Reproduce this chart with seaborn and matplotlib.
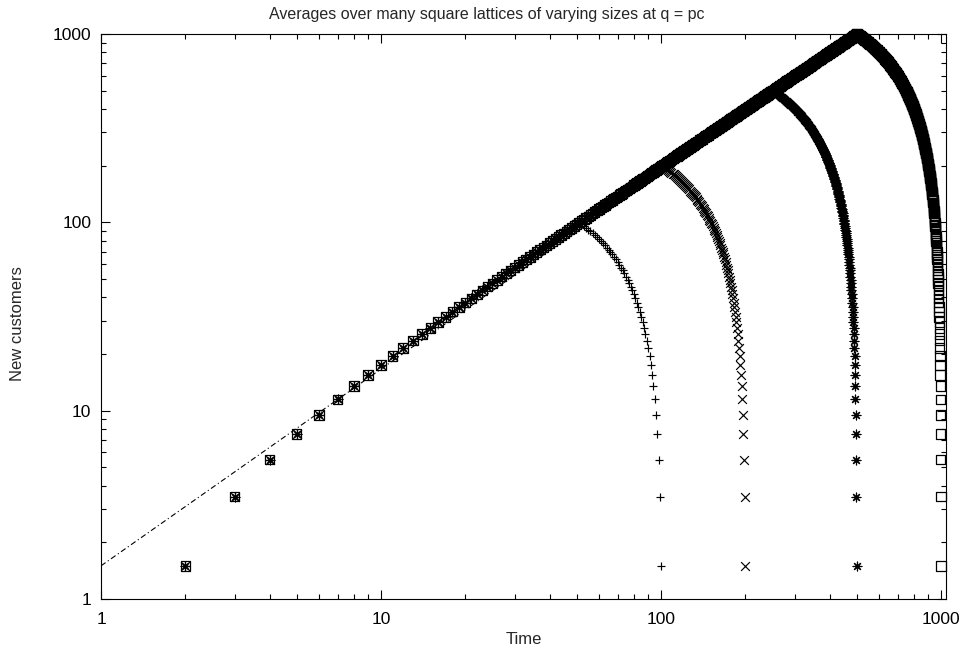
import matplotlib
matplotlib.use("Agg")
import matplotlib.pyplot as plt
import seaborn as sns
import pandas as pd
from matplotlib.ticker import LogLocator, NullFormatter

sns.set_style("ticks")
plt.rcParams['font.family'] = ['Liberation Sans', 'DejaVu Sans']

title = "Averages over many square lattices of varying sizes at q = pc"
x_label = "Time"
y_label = "New customers"

# lattice sizes (one series each) and their gnuplot-like point types
lattice_sizes = [100, 200, 500, 1000]
series_markers = ['+', 'x', (8, 2, 0), 's']

# time steps along the growing branch and the new-customer levels read there
steps = [2, 3, 4, 5, 6, 7, 8, 9, 10, 11,
         12, 13, 14, 15, 16, 17, 18, 19, 20, 21,
         22, 23, 24, 25, 26, 27, 28, 29, 30, 31,
         32, 33, 34, 35, 36, 37, 38, 39, 40, 41,
         42, 43, 44, 45, 46, 47, 48, 49, 50, 51,
         52, 53, 54, 55, 56, 57, 58, 59, 60, 61,
         62, 63, 64, 65, 66, 67, 68, 69, 70, 71,
         72, 73, 74, 75, 76, 77, 78, 79, 80, 81,
         82, 83, 84, 85, 86, 87, 88, 89, 90, 91,
         92, 93, 94, 95, 96, 97, 98, 99, 100, 101,
         102, 103, 104, 105, 106, 107, 108, 109, 110, 111,
         112, 113, 114, 115, 116, 117, 118, 119, 120, 121,
         122, 123, 124, 125, 126, 127, 128, 129, 130, 131,
         132, 133, 134, 135, 136, 137, 138, 139, 140, 141,
         142, 143, 144, 145, 146, 147, 148, 149, 150, 151,
         152, 153, 154, 155, 156, 157, 158, 159, 160, 161,
         162, 163, 164, 165, 166, 167, 168, 169, 170, 171,
         172, 173, 174, 175, 176, 177, 178, 179, 180, 181,
         182, 183, 184, 185, 186, 187, 188, 189, 190, 191,
         192, 193, 194, 195, 196, 197, 198, 199, 200, 201,
         202, 203, 204, 205, 206, 207, 208, 209, 210, 211,
         212, 213, 214, 215, 216, 217, 218, 219, 220, 221,
         222, 223, 224, 225, 226, 227, 228, 229, 230, 231,
         232, 233, 234, 235, 236, 237, 238, 239, 240, 241,
         242, 243, 244, 245, 246, 247, 248, 249, 250,
         252, 254, 256, 258, 260, 262, 264, 266, 268, 270,
         272, 274, 276, 278, 280, 282, 284, 286, 288, 290,
         292, 294, 296, 298, 300, 302, 304, 306, 308, 310,
         312, 314, 316, 318, 320, 322, 324, 326, 328, 330,
         332, 334, 336, 338, 340, 342, 344, 346, 348, 350,
         352, 354, 356, 358, 360, 362, 364, 366, 368, 370,
         372, 374, 376, 378, 380, 382, 384, 386, 388, 390,
         392, 394, 396, 398, 400, 402, 404, 406, 408, 410,
         412, 414, 416, 418, 420, 422, 424, 426, 428, 430,
         432, 434, 436, 438, 440, 442, 444, 446, 448, 450,
         452, 454, 456, 458, 460, 462, 464, 466, 468, 470,
         472, 474, 476, 478, 480, 482, 484, 486, 488, 490,
         492, 494, 496, 498, 500]
levels = [1.5, 3.5, 5.5, 7.5, 9.5, 11.5, 13.5, 15.5, 17.5, 19.5,
          21.5, 23.5, 25.5, 27.5, 29.5, 31.5, 33.5, 35.5, 37.5, 39.5,
          41.5, 43.5, 45.5, 47.5, 49.5, 51.5, 53.5, 55.5, 57.5, 59.5,
          61.5, 63.5, 65.5, 67.5, 69.5, 71.5, 73.5, 75.5, 77.5, 79.5,
          81.5, 83.5, 85.5, 87.5, 89.5, 91.5, 93.5, 95.5, 97.5, 99.5,
          101.5, 103.5, 105.5, 107.5, 109.5, 111.5, 113.5, 115.5, 117.5, 119.5,
          121.5, 123.5, 125.5, 127.5, 129.5, 131.5, 133.5, 135.5, 137.5, 139.5,
          141.5, 143.5, 145.5, 147.5, 149.5, 151.5, 153.5, 155.5, 157.5, 159.5,
          161.5, 163.5, 165.5, 167.5, 169.5, 171.5, 173.5, 175.5, 177.5, 179.5,
          181.5, 183.5, 185.5, 187.5, 189.5, 191.5, 193.5, 195.5, 197.5, 199.5,
          201.5, 203.5, 205.5, 207.5, 209.5, 211.5, 213.5, 215.5, 217.5, 219.5,
          221.5, 223.5, 225.5, 227.5, 229.5, 231.5, 233.5, 235.5, 237.5, 239.5,
          241.5, 243.5, 245.5, 247.5, 249.5, 251.5, 253.5, 255.5, 257.5, 259.5,
          261.5, 263.5, 265.5, 267.5, 269.5, 271.5, 273.5, 275.5, 277.5, 279.5,
          281.5, 283.5, 285.5, 287.5, 289.5, 291.5, 293.5, 295.5, 297.5, 299.5,
          301.5, 303.5, 305.5, 307.5, 309.5, 311.5, 313.5, 315.5, 317.5, 319.5,
          321.5, 323.5, 325.5, 327.5, 329.5, 331.5, 333.5, 335.5, 337.5, 339.5,
          341.5, 343.5, 345.5, 347.5, 349.5, 351.5, 353.5, 355.5, 357.5, 359.5,
          361.5, 363.5, 365.5, 367.5, 369.5, 371.5, 373.5, 375.5, 377.5, 379.5,
          381.5, 383.5, 385.5, 387.5, 389.5, 391.5, 393.5, 395.5, 397.5, 399.5,
          401.5, 403.5, 405.5, 407.5, 409.5, 411.5, 413.5, 415.5, 417.5, 419.5,
          421.5, 423.5, 425.5, 427.5, 429.5, 431.5, 433.5, 435.5, 437.5, 439.5,
          441.5, 443.5, 445.5, 447.5, 449.5, 451.5, 453.5, 455.5, 457.5, 459.5,
          461.5, 463.5, 465.5, 467.5, 469.5, 471.5, 473.5, 475.5, 477.5, 479.5,
          481.5, 483.5, 485.5, 487.5, 489.5, 491.5, 493.5, 495.5, 497.5,
          501.5, 505.5, 509.5, 513.5, 517.5, 521.5, 525.5, 529.5, 533.5, 537.5,
          541.5, 545.5, 549.5, 553.5, 557.5, 561.5, 565.5, 569.5, 573.5, 577.5,
          581.5, 585.5, 589.5, 593.5, 597.5, 601.5, 605.5, 609.5, 613.5, 617.5,
          621.5, 625.5, 629.5, 633.5, 637.5, 641.5, 645.5, 649.5, 653.5, 657.5,
          661.5, 665.5, 669.5, 673.5, 677.5, 681.5, 685.5, 689.5, 693.5, 697.5,
          701.5, 705.5, 709.5, 713.5, 717.5, 721.5, 725.5, 729.5, 733.5, 737.5,
          741.5, 745.5, 749.5, 753.5, 757.5, 761.5, 765.5, 769.5, 773.5, 777.5,
          781.5, 785.5, 789.5, 793.5, 797.5, 801.5, 805.5, 809.5, 813.5, 817.5,
          821.5, 825.5, 829.5, 833.5, 837.5, 841.5, 845.5, 849.5, 853.5, 857.5,
          861.5, 865.5, 869.5, 873.5, 877.5, 881.5, 885.5, 889.5, 893.5, 897.5,
          901.5, 905.5, 909.5, 913.5, 917.5, 921.5, 925.5, 929.5, 933.5, 937.5,
          941.5, 945.5, 949.5, 953.5, 957.5, 961.5, 965.5, 969.5, 973.5, 977.5,
          981.5, 985.5, 989.5, 993.5, 997.5]

# dash-dot reference line (end points)
fit_time = [1, 504]
fit_customers = [1.5, 1000]

x_limits = (1, 1042)
y_limits = (1, 1000)
x_ticks = [1, 10, 100, 1000]
x_tick_labels = ["1", "10", "100", "1000"]
y_ticks = [1, 10, 100, 1000]
y_tick_labels = ["1", "10", "100", "1000"]

fig = plt.figure(figsize=(9.74, 6.48), dpi=100)
ax = fig.add_axes([101 / 974, 1 - 599 / 648, 845 / 974, 565 / 648])

sns.lineplot(x=fit_time, y=fit_customers, ax=ax, color='black', linewidth=0.8,
             linestyle=(0, (5, 2.5, 1, 2.5)), sort=False, estimator=None)

for L, m in zip(lattice_sizes, series_markers):
    rise_t = [s for s in steps if s <= L / 2]
    rise_y = [v for s, v in zip(steps, levels) if s <= L / 2]
    fall_t = [L + 2 - s for s in rise_t]
    df = pd.DataFrame({"t": rise_t + fall_t, "y": rise_y + rise_y})
    if m == 's':
        sns.scatterplot(data=df, x="t", y="y", marker=m, s=46, facecolor='none',
                        edgecolor='black', linewidth=0.9, ax=ax, legend=False,
                        clip_on=False, zorder=3)
    else:
        sns.scatterplot(data=df, x="t", y="y", marker=m, s=40, color='black',
                        linewidth=0.85, ax=ax, legend=False, clip_on=False,
                        zorder=3)

ax.set_xscale('log')
ax.set_yscale('log')
ax.set_xlim(*x_limits)
ax.set_ylim(*y_limits)
ax.set_xticks(x_ticks, labels=x_tick_labels)
ax.set_yticks(y_ticks, labels=y_tick_labels)
ax.xaxis.set_minor_locator(LogLocator(base=10, subs=range(2, 10)))
ax.yaxis.set_minor_locator(LogLocator(base=10, subs=range(2, 10)))
ax.xaxis.set_minor_formatter(NullFormatter())
ax.yaxis.set_minor_formatter(NullFormatter())
ax.tick_params(which='both', direction='in', top=True, right=True, width=0.8,
               color='black', labelsize=12.5, labelcolor='black')
ax.tick_params(which='major', length=6.5)
ax.tick_params(which='minor', length=3.3)
ax.tick_params(axis='x', which='major', pad=9)
ax.tick_params(axis='y', which='major', pad=7)
for sp in ax.spines.values():
    sp.set_linewidth(0.8)
    sp.set_color('black')

ax.set_xlabel(x_label, fontsize=12, labelpad=4)
ax.set_ylabel(y_label, fontsize=12)
ax.yaxis.set_label_coords(-0.0904, 0.488)
fig.text(0.5, 1 - 14 / 648, title, ha='center', va='center', fontsize=11.5)

fig.savefig("out.png", dpi=100)
